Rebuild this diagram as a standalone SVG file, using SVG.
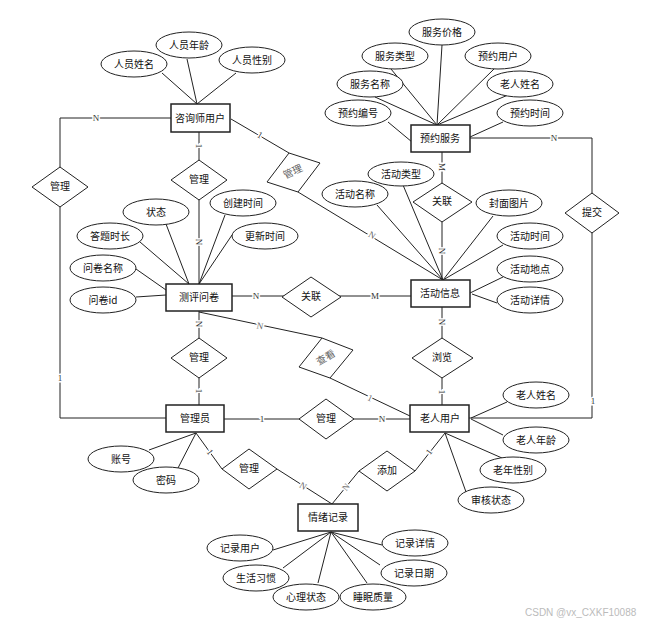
<svg xmlns="http://www.w3.org/2000/svg" width="649" height="623" viewBox="0 0 649 623">
<style>
.ln{stroke:#222;stroke-width:1;fill:none}
.ent rect{fill:#fff;stroke:#222;stroke-width:1.5}
.att ellipse{fill:#fff;stroke:#222;stroke-width:1}
.rel polygon{fill:#fff;stroke:#222;stroke-width:1}
text{font-family:"Noto Sans CJK SC","Noto Sans",sans-serif;font-size:10px;text-anchor:middle;fill:#111}
.lbl{font-family:"Liberation Serif",serif;font-size:9px;fill:#333;stroke:#fff;stroke-width:3;paint-order:stroke}
.g{fill:#666}
.wm{font-family:"Liberation Sans",sans-serif;font-size:10px;fill:#bbb;text-anchor:start}
</style>
<rect width="649" height="623" fill="#fff"/>
<g id="connectors">
<path class="ln" d="M171,118 H60 V418 H166"/>
<path class="ln" d="M199,132 V284"/>
<path class="ln" d="M231,119 L289,153 M298,192 L443,280"/>
<path class="ln" d="M470,138 H592 V418 H469"/>
<path class="ln" d="M442,152 V280"/>
<path class="ln" d="M232,296 H411"/>
<path class="ln" d="M199,311 V405"/>
<path class="ln" d="M199,312 L322,338 M330,378 L410,416"/>
<path class="ln" d="M442,307 V405"/>
<path class="ln" d="M224,419 H410"/>
<path class="ln" d="M196,433 L222,469 M277,469 L332,504"/>
<path class="ln" d="M445,433 L415,471 M359,471 L332,504"/>
<!-- attribute lines -->
<path class="ln" d="M197,104 L162,73 M197,104 L187,59 M197,104 L236,73"/>
<path class="ln" d="M437,125 L442,45 M437,125 L391,69 M437,125 L375,97 M437,125 L494,69 M437,125 L508,95 M412,142 L388,122 M470,137 L503,122"/>
<path class="ln" d="M189,284 L140,242 M189,284 L166,224 M166,290 L136,269 M166,295 L136,297 M199,284 L225,215 M199,284 L232,235"/>
<path class="ln" d="M443,280 L377,205 M443,280 L403,185 M443,280 L493,216 M443,280 L503,245 M470,293 L503,277 M472,294 L497,303"/>
<path class="ln" d="M196,433 L149,450 M196,433 L178,468"/>
<path class="ln" d="M471,418 L507,402 M471,419 L503,435 M445,433 L502,458 M445,433 L466,492"/>
<path class="ln" d="M331,532 L273,550 M331,532 L283,568 M331,532 L318,583 M331,532 L367,583 M331,532 L380,565 M331,532 L382,545"/>
<!-- cardinality labels -->
<text class="lbl" x="96" y="121">N</text>
<text class="lbl" x="60" y="381">1</text>
<text class="lbl" transform="rotate(90 199 146)" x="199" y="149">1</text>
<text class="lbl" transform="rotate(90 199 242)" x="199" y="245">N</text>
<text class="lbl" transform="rotate(30 260 135)" x="260" y="138">1</text>
<text class="lbl g" transform="rotate(31 372 235)" x="372" y="238">N</text>
<text class="lbl" x="554" y="141">N</text>
<text class="lbl" x="593" y="404">1</text>
<text class="lbl" transform="rotate(90 442 167)" x="442" y="170">M</text>
<text class="lbl" transform="rotate(90 442 251)" x="442" y="254">N</text>
<text class="lbl" x="256" y="299">N</text>
<text class="lbl" x="375" y="299">M</text>
<text class="lbl" transform="rotate(90 199 324)" x="199" y="327">N</text>
<text class="lbl" transform="rotate(90 199 391)" x="199" y="394">1</text>
<text class="lbl g" transform="rotate(11 260 326)" x="260" y="329">N</text>
<text class="lbl g" transform="rotate(25 370 398)" x="370" y="401">1</text>
<text class="lbl" transform="rotate(90 442 322)" x="442" y="325">N</text>
<text class="lbl" transform="rotate(90 442 392)" x="442" y="395">1</text>
<text class="lbl" x="262" y="422">1</text>
<text class="lbl" x="382" y="422">N</text>
<text class="lbl" transform="rotate(54 210 452)" x="210" y="455">1</text>
<text class="lbl g" transform="rotate(32 303 486)" x="303" y="489">N</text>
<text class="lbl" transform="rotate(-52 429 452)" x="429" y="455">1</text>
<text class="lbl g" transform="rotate(-51 346 487)" x="346" y="490">N</text>
</g>
<!-- relationships -->
<g id="r_manage_left" class="rel"><polygon points="32,187 60,167 88,187 60,207"/><text x="60" y="190">管理</text></g>
<g id="r_manage_top" class="rel"><polygon points="171,180 199,160 227,180 199,200"/><text x="199" y="183">管理</text></g>
<g id="r_manage_tilt" class="rel"><polygon points="289,153 320,163 298,192 267,182"/><text class="g" transform="rotate(-25 293 172)" x="293" y="175">管理</text></g>
<g id="r_link_top" class="rel"><polygon points="413,202 442,183 472,202 442,222"/><text x="442" y="205">关联</text></g>
<g id="r_submit" class="rel"><polygon points="565,213 592,193 619,213 592,233"/><text x="592" y="216">提交</text></g>
<g id="r_link_mid" class="rel"><polygon points="282,297 311,277 341,297 311,317"/><text x="311" y="300">关联</text></g>
<g id="r_manage_mid" class="rel"><polygon points="171,358 199,338 227,358 199,378"/><text x="199" y="361">管理</text></g>
<g id="r_view" class="rel"><polygon points="322,338 353,350 330,378 299,367"/><text class="g" transform="rotate(-30 326 358)" x="326" y="361">查看</text></g>
<g id="r_browse" class="rel"><polygon points="412,358 442,338 473,358 442,378"/><text x="442" y="361">浏览</text></g>
<g id="r_manage_elder" class="rel"><polygon points="299,419 326,399 354,419 326,439"/><text x="326" y="422">管理</text></g>
<g id="r_manage_low" class="rel"><polygon points="222,469 249,449 277,469 249,489"/><text x="249" y="472">管理</text></g>
<g id="r_add" class="rel"><polygon points="359,471 387,451 415,471 387,491"/><text x="387" y="474">添加</text></g>
<!-- entities -->
<g id="e_counselor" class="ent"><rect x="171" y="104" width="59" height="28"/><text x="200" y="122">咨询师用户</text></g>
<g id="e_booking" class="ent"><rect x="411" y="125" width="59" height="27"/><text x="440" y="142">预约服务</text></g>
<g id="e_survey" class="ent"><rect x="166" y="284" width="66" height="27"/><text x="199" y="301">测评问卷</text></g>
<g id="e_activity" class="ent"><rect x="411" y="280" width="59" height="27"/><text x="440" y="297">活动信息</text></g>
<g id="e_admin" class="ent"><rect x="166" y="405" width="58" height="27"/><text x="195" y="422">管理员</text></g>
<g id="e_elder" class="ent"><rect x="410" y="405" width="59" height="27"/><text x="440" y="422">老人用户</text></g>
<g id="e_mood" class="ent"><rect x="298" y="504" width="60" height="27"/><text x="328" y="521">情绪记录</text></g>
<!-- attributes -->
<g id="a_c_name" class="att"><ellipse cx="134" cy="64" rx="33" ry="13"/><text x="134" y="68">人员姓名</text></g>
<g id="a_c_age" class="att"><ellipse cx="189" cy="45" rx="33" ry="13"/><text x="189" y="49">人员年龄</text></g>
<g id="a_c_sex" class="att"><ellipse cx="252" cy="60" rx="33" ry="13"/><text x="252" y="64">人员性别</text></g>
<g id="a_b_price" class="att"><ellipse cx="442" cy="32" rx="33" ry="13"/><text x="442" y="36">服务价格</text></g>
<g id="a_b_type" class="att"><ellipse cx="395" cy="56" rx="33" ry="13"/><text x="395" y="60">服务类型</text></g>
<g id="a_b_user" class="att"><ellipse cx="498" cy="56" rx="33" ry="13"/><text x="498" y="60">预约用户</text></g>
<g id="a_b_name" class="att"><ellipse cx="370" cy="84" rx="33" ry="13"/><text x="370" y="88">服务名称</text></g>
<g id="a_b_elder" class="att"><ellipse cx="520" cy="84" rx="33" ry="13"/><text x="520" y="88">老人姓名</text></g>
<g id="a_b_no" class="att"><ellipse cx="358" cy="113" rx="33" ry="13"/><text x="358" y="117">预约编号</text></g>
<g id="a_b_time" class="att"><ellipse cx="530" cy="113" rx="33" ry="13"/><text x="530" y="117">预约时间</text></g>
<g id="a_s_state" class="att"><ellipse cx="156" cy="212" rx="33" ry="13"/><text x="156" y="216">状态</text></g>
<g id="a_s_ctime" class="att"><ellipse cx="243" cy="203" rx="33" ry="13"/><text x="243" y="207">创建时间</text></g>
<g id="a_s_dur" class="att"><ellipse cx="110" cy="236" rx="33" ry="13"/><text x="110" y="240">答题时长</text></g>
<g id="a_s_utime" class="att"><ellipse cx="265" cy="236" rx="33" ry="13"/><text x="265" y="240">更新时间</text></g>
<g id="a_s_name" class="att"><ellipse cx="103" cy="268" rx="33" ry="13"/><text x="103" y="272">问卷名称</text></g>
<g id="a_s_id" class="att"><ellipse cx="103" cy="300" rx="33" ry="13"/><text x="103" y="304">问卷id</text></g>
<g id="a_a_type" class="att"><ellipse cx="401" cy="174" rx="33" ry="12"/><text x="401" y="178">活动类型</text></g>
<g id="a_a_name" class="att"><ellipse cx="355" cy="194" rx="33" ry="13"/><text x="355" y="198">活动名称</text></g>
<g id="a_a_img" class="att"><ellipse cx="509" cy="203" rx="33" ry="13"/><text x="509" y="207">封面图片</text></g>
<g id="a_a_time" class="att"><ellipse cx="530" cy="236" rx="33" ry="13"/><text x="530" y="240">活动时间</text></g>
<g id="a_a_place" class="att"><ellipse cx="530" cy="269" rx="33" ry="13"/><text x="530" y="273">活动地点</text></g>
<g id="a_a_detail" class="att"><ellipse cx="530" cy="300" rx="33" ry="13"/><text x="530" y="304">活动详情</text></g>
<g id="a_ad_acc" class="att"><ellipse cx="121" cy="459" rx="33" ry="13"/><text x="121" y="463">账号</text></g>
<g id="a_ad_pwd" class="att"><ellipse cx="166" cy="480" rx="33" ry="13"/><text x="166" y="484">密码</text></g>
<g id="a_e_name" class="att"><ellipse cx="536" cy="395" rx="33" ry="13"/><text x="536" y="399">老人姓名</text></g>
<g id="a_e_age" class="att"><ellipse cx="536" cy="440" rx="33" ry="13"/><text x="536" y="444">老人年龄</text></g>
<g id="a_e_sex" class="att"><ellipse cx="513" cy="470" rx="33" ry="13"/><text x="513" y="474">老年性别</text></g>
<g id="a_e_audit" class="att"><ellipse cx="491" cy="500" rx="33" ry="13"/><text x="491" y="504">审核状态</text></g>
<g id="a_m_user" class="att"><ellipse cx="240" cy="548" rx="33" ry="13"/><text x="240" y="552">记录用户</text></g>
<g id="a_m_habit" class="att"><ellipse cx="256" cy="578" rx="33" ry="13"/><text x="256" y="582">生活习惯</text></g>
<g id="a_m_mind" class="att"><ellipse cx="306" cy="597" rx="33" ry="13"/><text x="306" y="601">心理状态</text></g>
<g id="a_m_sleep" class="att"><ellipse cx="373" cy="597" rx="33" ry="13"/><text x="373" y="601">睡眠质量</text></g>
<g id="a_m_date" class="att"><ellipse cx="414" cy="573" rx="33" ry="13"/><text x="414" y="577">记录日期</text></g>
<g id="a_m_detail" class="att"><ellipse cx="415" cy="543" rx="33" ry="13"/><text x="415" y="547">记录详情</text></g>
<text class="wm" x="525" y="616">CSDN @vx_CXKF10088</text>
</svg>
